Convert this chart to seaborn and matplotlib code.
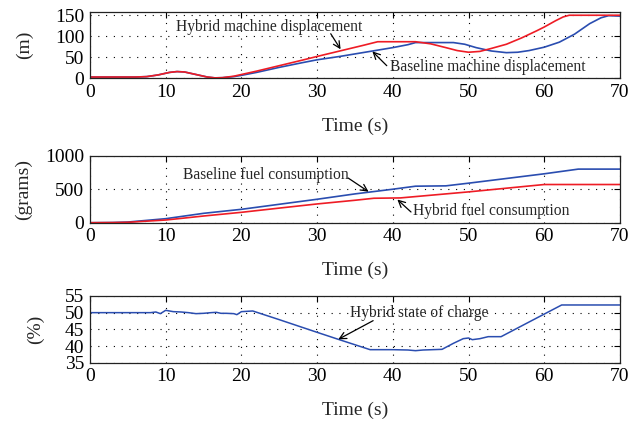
import matplotlib
matplotlib.use("Agg")
import matplotlib.pyplot as plt
import seaborn as sns
import pandas as pd

# ---------------- data ----------------
# Panel 1: machine displacement (m)
t_hyb_disp = [0, 6, 7.5, 9, 10.5, 11.5, 12.5, 14, 15.5, 16.5, 17.5, 19, 20, 22, 25, 28, 30, 33, 36, 38,
              43, 45, 47, 48.5, 50, 51.5, 53, 55, 57, 59, 60, 61.5, 62.5, 63.3, 70]
hyb_disp = [3, 3, 4, 8, 14, 16, 15, 9, 3, 1, 1.5, 5, 9, 17, 30, 43, 52, 65, 78, 87,
            87, 82, 73, 66, 62, 64, 71, 81, 96, 113, 122, 137, 146, 150, 150]
t_base_disp = [0, 6, 7.5, 9, 10.5, 11.5, 12.5, 14, 15.5, 16.5, 17.5, 19, 20, 22, 25, 28, 30, 33, 36, 38,
               40, 42, 43, 48, 49.5, 51, 53, 55, 56.5, 58, 60, 62, 64, 66, 67.5, 68.5, 70]
base_disp = [3, 3, 4, 8, 14, 16, 15, 9, 3, 1, 1.5, 4, 7, 14, 26, 37, 44, 52, 61, 67,
             73, 80, 85, 85, 81, 73, 65, 61, 62, 66, 74, 86, 105, 130, 144, 149, 148]

# Panel 2: fuel consumption (grams)
t_base_fuel = [0, 3, 5, 7, 10, 15, 20, 25, 30, 35, 40, 43, 47, 50, 55, 60, 64.5, 70]
base_fuel = [0, 3, 10, 30, 60, 140, 200, 275, 350, 430, 500, 545, 550, 590, 660, 730, 800, 800]
t_hyb_fuel = [0, 3, 5, 7, 10, 15, 20, 25, 30, 35, 37.5, 41, 45, 50, 55, 60, 70]
hyb_fuel = [0, 2, 6, 20, 40, 100, 155, 218, 280, 335, 365, 370, 410, 460, 515, 570, 570]

# Panel 3: hybrid state of charge (%)
t_soc = [0, 8, 8.7, 9.3, 10, 11, 12, 13, 14, 15, 16, 16.7, 17.3, 18, 19, 19.4, 20, 21.5,
         25, 30, 32.8, 37, 40, 42, 43, 44, 46.5, 48, 49.3, 50, 50.5, 51.5, 52.6, 54.3, 58, 62.3, 63, 70]
soc = [50, 50, 50.2, 49.7, 50.7, 50.3, 50.2, 50.0, 49.7, 49.8, 50.0, 50.1, 49.8, 49.8, 49.7, 49.4, 50.3, 50.5,
       47.9, 44.1, 42.0, 38.9, 38.9, 38.8, 38.6, 38.8, 39.0, 40.8, 42.2, 42.4, 41.9, 42.2, 42.8, 42.8, 47.2, 52.3, 52.3, 52.3]

x_ticks = [0, 10, 20, 30, 40, 50, 60, 70]
disp_ticks = [0, 50, 100, 150]
fuel_ticks = [0, 500, 1000]
soc_ticks = [35, 40, 45, 50, 55]

# ---------------- style ----------------
sns.set_style("white")
plt.rcParams['font.family'] = ['Liberation Serif', 'DejaVu Serif']

RED = '#ee1c25'
BLUE = '#2a4db0'
TICK_FS = 14
LAB_FS = 14
ANN_FS = 11.2

fig = plt.figure(figsize=(6.39, 4.23), dpi=100)
ax1 = fig.add_axes([0.1408, 0.8149, 0.8294, 0.1560])
ax2 = fig.add_axes([0.1408, 0.4735, 0.8294, 0.1584])
ax3 = fig.add_axes([0.1408, 0.1426, 0.8294, 0.1577])


def style(ax, yticks, ylim, ylabel, ylab_x):
    ax.set_xlim(0, 70)
    ax.set_ylim(*ylim)
    ax.set_xticks(x_ticks)
    ax.set_yticks(yticks)
    ax.grid(True, color='black', linestyle=(0, (1, 6)), linewidth=0.8)
    ax.tick_params(direction='in', length=4, width=0.8, top=True, right=True,
                   labelsize=TICK_FS, colors='black', pad=4)
    for sp in ax.spines.values():
        sp.set_visible(True)
        sp.set_color('#222222')
        sp.set_linewidth(0.9)
    ax.set_xlabel('Time (s)', fontsize=LAB_FS, labelpad=12)
    ax.set_ylabel(ylabel, fontsize=LAB_FS)
    ax.yaxis.set_label_coords(ylab_x, 0.5)


def arrow(ax, head, tail):
    ax.annotate('', xy=head, xytext=tail,
                arrowprops=dict(arrowstyle='->', color='black', lw=0.9,
                                shrinkA=0, shrinkB=0, mutation_scale=12))


# Panel 1
df_hd = pd.DataFrame({'t': t_hyb_disp, 'v': hyb_disp})
df_bd = pd.DataFrame({'t': t_base_disp, 'v': base_disp})
sns.lineplot(data=df_bd, x='t', y='v', ax=ax1, color=BLUE, lw=1.2, estimator=None, sort=False)
sns.lineplot(data=df_hd, x='t', y='v', ax=ax1, color=RED, lw=1.2, estimator=None, sort=False)
style(ax1, disp_ticks, (0, 157), '(m)', -0.107)
ax1.text(23.7, 123, 'Hybrid machine displacement', fontsize=ANN_FS, ha='center', va='center')
arrow(ax1, (33.1, 69), (31.8, 106))
ax1.text(52.6, 28, 'Baseline machine displacement', fontsize=ANN_FS, ha='center', va='center')
arrow(ax1, (37.3, 64), (39.2, 30))

# Panel 2
df_bf = pd.DataFrame({'t': t_base_fuel, 'v': base_fuel})
df_hf = pd.DataFrame({'t': t_hyb_fuel, 'v': hyb_fuel})
sns.lineplot(data=df_bf, x='t', y='v', ax=ax2, color=BLUE, lw=1.2, estimator=None, sort=False)
sns.lineplot(data=df_hf, x='t', y='v', ax=ax2, color=RED, lw=1.2, estimator=None, sort=False)
style(ax2, fuel_ticks, (0, 1000), '(grams)', -0.109)
ax2.text(23.2, 717, 'Baseline fuel consumption', fontsize=ANN_FS, ha='center', va='center')
arrow(ax2, (36.8, 463), (34.1, 667))
ax2.text(53, 168, 'Hybrid fuel consumption', fontsize=ANN_FS, ha='center', va='center')
arrow(ax2, (40.6, 346), (42.4, 160))

# Panel 3
df_soc = pd.DataFrame({'t': t_soc, 'v': soc})
sns.lineplot(data=df_soc, x='t', y='v', ax=ax3, color=BLUE, lw=1.1, estimator=None, sort=False)
style(ax3, soc_ticks, (35, 55), '(%)', -0.087)
ax3.text(43.5, 50, 'Hybrid state of charge', fontsize=ANN_FS, ha='center', va='center')
arrow(ax3, (32.8, 42.0), (37.4, 47.6))

fig.savefig('out.png', dpi=100)
